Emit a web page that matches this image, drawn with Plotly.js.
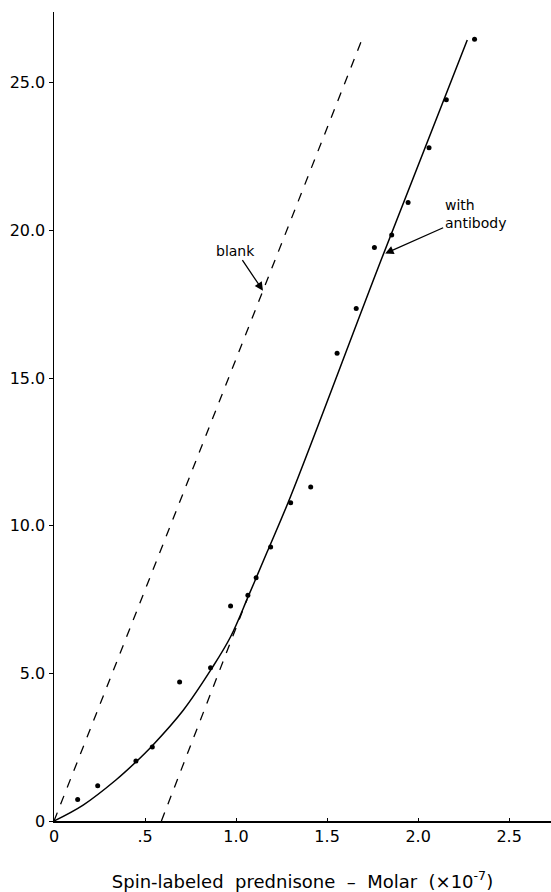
<!DOCTYPE html>
<html>
<head>
<meta charset="utf-8">
<script src="https://cdn.plot.ly/plotly-3.0.1.min.js"></script>
<style>
  html, body { margin: 0; padding: 0; background: #fff; }
  #chart { width: 551px; height: 892px; }
</style>
</head>
<body>
<div id="chart"></div>
<script>
// Measured data points (with antibody)
const pointsX = [0.13, 0.24, 0.45, 0.54, 0.69, 0.86, 0.97, 1.065, 1.11, 1.19, 1.30, 1.41, 1.555, 1.66, 1.76, 1.855, 1.945, 2.06, 2.155, 2.31];
const pointsY = [0.73, 1.19, 2.03, 2.51, 4.71, 5.19, 7.28, 7.65, 8.24, 9.28, 10.78, 11.31, 15.84, 17.36, 19.42, 19.85, 20.95, 22.8, 24.43, 26.48];

// Hand-drawn fitted curve (with antibody)
const fitX = [0, 0.16, 0.34, 0.45, 0.54, 0.71, 0.87, 0.97, 1.07, 1.17, 1.3, 1.8, 2.27];
const fitY = [0, 0.54, 1.39, 2.0, 2.55, 3.75, 5.2, 6.24, 7.65, 9.1, 11.0, 19.05, 26.45];

// Blank dashed line
const blankX = [0, 1.70];
const blankY = [0, 26.6];

// Dashed asymptote of the antibody curve
const asymX = [0.59, 1.06];
const asymY = [0, 7.5];

// Tick labels
const xTickVals = [0, 0.5, 1.0, 1.5, 2.0, 2.5];
const xTickText = ["0", ".5", "1.0", "1.5", "2.0", "2.5"];
const yTickVals = [0, 5, 10, 15, 20, 25];
const yTickText = ["0", "5.0", "10.0", "15.0", "20.0", "25.0"];

const FONT = "DejaVu Sans, Noto Sans, sans-serif";

const traces = [
  { x: blankX, y: blankY, mode: "lines", line: { color: "#000", width: 1.3, dash: "dash" }, hoverinfo: "skip" },
  { x: asymX, y: asymY, mode: "lines", line: { color: "#000", width: 1.3, dash: "dash" }, hoverinfo: "skip" },
  { x: fitX, y: fitY, mode: "lines", line: { color: "#000", width: 1.5, shape: "spline", smoothing: 1.0 }, hoverinfo: "skip" },
  { x: pointsX, y: pointsY, mode: "markers", marker: { color: "#000", size: 5 } }
];

const layout = {
  width: 551, height: 892,
  margin: { l: 54, r: 0, t: 12, b: 71 },
  paper_bgcolor: "#fff", plot_bgcolor: "#fff",
  showlegend: false,
  font: { family: FONT, color: "#000", size: 16 },
  xaxis: {
    range: [0, 2.73], showgrid: false, zeroline: false,
    showline: true, linecolor: "#000", linewidth: 1.5,
    ticks: "inside", ticklen: 3, tickwidth: 1, tickcolor: "#000",
    tickvals: xTickVals, ticktext: xTickText,
    tickfont: { family: FONT, size: 16 },
    title: { text: "Spin-labeled  prednisone  \u2013  Molar  (\u00d710<sup>-7</sup>)", font: { family: FONT, size: 18 }, standoff: 31 }
  },
  yaxis: {
    range: [0, 27.4], showgrid: false, zeroline: false,
    showline: true, linecolor: "#000", linewidth: 1.5,
    ticks: "outside", ticklen: 4, tickwidth: 1, tickcolor: "#000",
    tickvals: yTickVals, ticktext: yTickText,
    tickfont: { family: FONT, size: 16 }
  },
  annotations: [
    { x: 1.148, y: 17.96, ax: -27, ay: -40, text: "blank", showarrow: true, arrowhead: 2, arrowsize: 1.3, arrowwidth: 1.3, arrowcolor: "#000", font: { family: FONT, size: 14 } },
    { x: 1.819, y: 19.22, ax: 90, ay: -40, text: "with<br>antibody", align: "left", showarrow: true, arrowhead: 2, arrowsize: 1.3, arrowwidth: 1.3, arrowcolor: "#000", font: { family: FONT, size: 14 } }
  ]
};

Plotly.newPlot("chart", traces, layout, { displayModeBar: false, staticPlot: true });
</script>
</body>
</html>
